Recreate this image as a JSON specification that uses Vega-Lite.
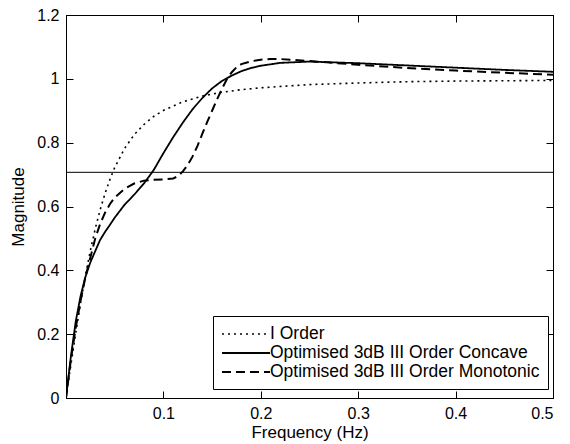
{
  "$schema": "https://vega.github.io/schema/vega-lite/v6.json",
  "width": 487,
  "height": 383,
  "autosize": {"type": "none"},
  "padding": {"left": 66, "top": 15, "right": 17, "bottom": 46},
  "background": "white",
  "datasets": {
    "curves": [
      {"f": 0, "m": 0, "s": "I Order"},
      {"f": 0.005, "m": 0.104, "s": "I Order"},
      {"f": 0.01, "m": 0.204, "s": "I Order"},
      {"f": 0.015, "m": 0.298, "s": "I Order"},
      {"f": 0.02, "m": 0.385, "s": "I Order"},
      {"f": 0.025, "m": 0.462, "s": "I Order"},
      {"f": 0.03, "m": 0.53, "s": "I Order"},
      {"f": 0.035, "m": 0.589, "s": "I Order"},
      {"f": 0.04, "m": 0.64, "s": "I Order"},
      {"f": 0.045, "m": 0.684, "s": "I Order"},
      {"f": 0.05, "m": 0.722, "s": "I Order"},
      {"f": 0.06, "m": 0.781, "s": "I Order"},
      {"f": 0.07, "m": 0.825, "s": "I Order"},
      {"f": 0.08, "m": 0.857, "s": "I Order"},
      {"f": 0.09, "m": 0.882, "s": "I Order"},
      {"f": 0.1, "m": 0.901, "s": "I Order"},
      {"f": 0.12, "m": 0.928, "s": "I Order"},
      {"f": 0.14, "m": 0.946, "s": "I Order"},
      {"f": 0.16, "m": 0.958, "s": "I Order"},
      {"f": 0.18, "m": 0.966, "s": "I Order"},
      {"f": 0.2, "m": 0.972, "s": "I Order"},
      {"f": 0.25, "m": 0.982, "s": "I Order"},
      {"f": 0.3, "m": 0.987, "s": "I Order"},
      {"f": 0.35, "m": 0.991, "s": "I Order"},
      {"f": 0.4, "m": 0.993, "s": "I Order"},
      {"f": 0.45, "m": 0.994, "s": "I Order"},
      {"f": 0.5, "m": 0.995, "s": "I Order"},
      {"f": 0, "m": 0, "s": "Optimised 3dB III Order Concave"},
      {"f": 0.005, "m": 0.13, "s": "Optimised 3dB III Order Concave"},
      {"f": 0.01, "m": 0.24, "s": "Optimised 3dB III Order Concave"},
      {"f": 0.015, "m": 0.32, "s": "Optimised 3dB III Order Concave"},
      {"f": 0.02, "m": 0.38, "s": "Optimised 3dB III Order Concave"},
      {"f": 0.025, "m": 0.425, "s": "Optimised 3dB III Order Concave"},
      {"f": 0.03, "m": 0.46, "s": "Optimised 3dB III Order Concave"},
      {"f": 0.035, "m": 0.495, "s": "Optimised 3dB III Order Concave"},
      {"f": 0.04, "m": 0.52, "s": "Optimised 3dB III Order Concave"},
      {"f": 0.045, "m": 0.542, "s": "Optimised 3dB III Order Concave"},
      {"f": 0.05, "m": 0.565, "s": "Optimised 3dB III Order Concave"},
      {"f": 0.06, "m": 0.605, "s": "Optimised 3dB III Order Concave"},
      {"f": 0.07, "m": 0.637, "s": "Optimised 3dB III Order Concave"},
      {"f": 0.08, "m": 0.672, "s": "Optimised 3dB III Order Concave"},
      {"f": 0.09, "m": 0.714, "s": "Optimised 3dB III Order Concave"},
      {"f": 0.1, "m": 0.767, "s": "Optimised 3dB III Order Concave"},
      {"f": 0.11, "m": 0.817, "s": "Optimised 3dB III Order Concave"},
      {"f": 0.12, "m": 0.863, "s": "Optimised 3dB III Order Concave"},
      {"f": 0.13, "m": 0.905, "s": "Optimised 3dB III Order Concave"},
      {"f": 0.14, "m": 0.94, "s": "Optimised 3dB III Order Concave"},
      {"f": 0.15, "m": 0.97, "s": "Optimised 3dB III Order Concave"},
      {"f": 0.16, "m": 0.993, "s": "Optimised 3dB III Order Concave"},
      {"f": 0.17, "m": 1.01, "s": "Optimised 3dB III Order Concave"},
      {"f": 0.18, "m": 1.024, "s": "Optimised 3dB III Order Concave"},
      {"f": 0.19, "m": 1.034, "s": "Optimised 3dB III Order Concave"},
      {"f": 0.2, "m": 1.041, "s": "Optimised 3dB III Order Concave"},
      {"f": 0.22, "m": 1.05, "s": "Optimised 3dB III Order Concave"},
      {"f": 0.25, "m": 1.054, "s": "Optimised 3dB III Order Concave"},
      {"f": 0.3, "m": 1.049, "s": "Optimised 3dB III Order Concave"},
      {"f": 0.35, "m": 1.042, "s": "Optimised 3dB III Order Concave"},
      {"f": 0.4, "m": 1.035, "s": "Optimised 3dB III Order Concave"},
      {"f": 0.45, "m": 1.028, "s": "Optimised 3dB III Order Concave"},
      {"f": 0.5, "m": 1.022, "s": "Optimised 3dB III Order Concave"},
      {"f": 0, "m": 0, "s": "Optimised 3dB III Order Monotonic"},
      {"f": 0.005, "m": 0.12, "s": "Optimised 3dB III Order Monotonic"},
      {"f": 0.01, "m": 0.22, "s": "Optimised 3dB III Order Monotonic"},
      {"f": 0.015, "m": 0.305, "s": "Optimised 3dB III Order Monotonic"},
      {"f": 0.02, "m": 0.38, "s": "Optimised 3dB III Order Monotonic"},
      {"f": 0.025, "m": 0.44, "s": "Optimised 3dB III Order Monotonic"},
      {"f": 0.03, "m": 0.5, "s": "Optimised 3dB III Order Monotonic"},
      {"f": 0.035, "m": 0.545, "s": "Optimised 3dB III Order Monotonic"},
      {"f": 0.04, "m": 0.58, "s": "Optimised 3dB III Order Monotonic"},
      {"f": 0.045, "m": 0.607, "s": "Optimised 3dB III Order Monotonic"},
      {"f": 0.05, "m": 0.628, "s": "Optimised 3dB III Order Monotonic"},
      {"f": 0.06, "m": 0.655, "s": "Optimised 3dB III Order Monotonic"},
      {"f": 0.07, "m": 0.672, "s": "Optimised 3dB III Order Monotonic"},
      {"f": 0.08, "m": 0.681, "s": "Optimised 3dB III Order Monotonic"},
      {"f": 0.09, "m": 0.684, "s": "Optimised 3dB III Order Monotonic"},
      {"f": 0.1, "m": 0.685, "s": "Optimised 3dB III Order Monotonic"},
      {"f": 0.11, "m": 0.688, "s": "Optimised 3dB III Order Monotonic"},
      {"f": 0.115, "m": 0.695, "s": "Optimised 3dB III Order Monotonic"},
      {"f": 0.12, "m": 0.71, "s": "Optimised 3dB III Order Monotonic"},
      {"f": 0.125, "m": 0.73, "s": "Optimised 3dB III Order Monotonic"},
      {"f": 0.13, "m": 0.757, "s": "Optimised 3dB III Order Monotonic"},
      {"f": 0.135, "m": 0.79, "s": "Optimised 3dB III Order Monotonic"},
      {"f": 0.14, "m": 0.828, "s": "Optimised 3dB III Order Monotonic"},
      {"f": 0.145, "m": 0.865, "s": "Optimised 3dB III Order Monotonic"},
      {"f": 0.15, "m": 0.9, "s": "Optimised 3dB III Order Monotonic"},
      {"f": 0.155, "m": 0.935, "s": "Optimised 3dB III Order Monotonic"},
      {"f": 0.16, "m": 0.968, "s": "Optimised 3dB III Order Monotonic"},
      {"f": 0.165, "m": 0.998, "s": "Optimised 3dB III Order Monotonic"},
      {"f": 0.17, "m": 1.02, "s": "Optimised 3dB III Order Monotonic"},
      {"f": 0.175, "m": 1.036, "s": "Optimised 3dB III Order Monotonic"},
      {"f": 0.18, "m": 1.046, "s": "Optimised 3dB III Order Monotonic"},
      {"f": 0.19, "m": 1.055, "s": "Optimised 3dB III Order Monotonic"},
      {"f": 0.2, "m": 1.06, "s": "Optimised 3dB III Order Monotonic"},
      {"f": 0.21, "m": 1.062, "s": "Optimised 3dB III Order Monotonic"},
      {"f": 0.22, "m": 1.062, "s": "Optimised 3dB III Order Monotonic"},
      {"f": 0.25, "m": 1.056, "s": "Optimised 3dB III Order Monotonic"},
      {"f": 0.3, "m": 1.044, "s": "Optimised 3dB III Order Monotonic"},
      {"f": 0.35, "m": 1.034, "s": "Optimised 3dB III Order Monotonic"},
      {"f": 0.4, "m": 1.026, "s": "Optimised 3dB III Order Monotonic"},
      {"f": 0.45, "m": 1.019, "s": "Optimised 3dB III Order Monotonic"},
      {"f": 0.5, "m": 1.013, "s": "Optimised 3dB III Order Monotonic"}
    ],
    "ref": [{"level": 0.7071}]
  },
  "layer": [
    {
      "data": {"name": "curves"},
      "mark": {"type": "line", "color": "black", "clip": true},
      "encoding": {
        "x": {
          "field": "f", "type": "quantitative",
          "scale": {"domain": [0, 0.5], "nice": false, "zero": false},
          "axis": {"orient": "bottom", "values": [0.1, 0.2, 0.3, 0.4, 0.5], "title": "Frequency (Hz)", "format": "~g", "titlePadding": 3}
        },
        "y": {
          "field": "m", "type": "quantitative",
          "scale": {"domain": [0, 1.2], "nice": false},
          "axis": {"orient": "left", "values": [0, 0.2, 0.4, 0.6, 0.8, 1, 1.2], "title": "Magnitude", "format": "~g", "titlePadding": 9}
        },
        "strokeDash": {
          "field": "s", "type": "nominal",
          "scale": {
            "domain": ["I Order", "Optimised 3dB III Order Concave", "Optimised 3dB III Order Monotonic"],
            "range": [[2, 4], [1, 0], [9, 5]]
          },
          "legend": {"title": null}
        },
        "strokeWidth": {
          "field": "s", "type": "nominal",
          "scale": {
            "domain": ["I Order", "Optimised 3dB III Order Concave", "Optimised 3dB III Order Monotonic"],
            "range": [1.6, 2, 2]
          },
          "legend": {"title": null}
        }
      }
    },
    {
      "data": {"name": "ref"},
      "mark": {"type": "rule", "color": "black", "strokeWidth": 1},
      "encoding": {
        "y": {"field": "level", "type": "quantitative", "axis": null}
      }
    },
    {
      "data": {"name": "curves"},
      "mark": {"type": "line", "opacity": 0},
      "encoding": {
        "x": {
          "field": "f", "type": "quantitative",
          "axis": {"orient": "top", "values": [0.1, 0.2, 0.3, 0.4, 0.5], "labels": false, "title": null}
        },
        "y": {
          "field": "m", "type": "quantitative",
          "axis": {"orient": "right", "values": [0, 0.2, 0.4, 0.6, 0.8, 1, 1.2], "labels": false, "title": null}
        },
        "detail": {"field": "s"}
      }
    }
  ],
  "resolve": {"axis": {"x": "independent", "y": "independent"}},
  "config": {
    "view": {"stroke": "black", "strokeWidth": 1},
    "axis": {
      "grid": false,
      "domainColor": "black",
      "tickColor": "black",
      "tickSize": -7,
      "labelPadding": 14,
      "labelFont": "Liberation Sans",
      "labelFontSize": 16,
      "labelColor": "black",
      "titleFont": "Liberation Sans",
      "titleFontSize": 17,
      "titleFontWeight": "normal",
      "titleColor": "black"
    },
    "legend": {
      "orient": "none",
      "legendX": 147,
      "legendY": 301,
      "strokeColor": "black",
      "fillColor": "white",
      "padding": 8,
      "symbolType": "M-2.67,0H2.67",
      "symbolSize": 324,
      "symbolOffset": 15,
      "symbolStrokeColor": "black",
      "labelFont": "Liberation Sans",
      "labelFontSize": 17.5,
      "labelColor": "black",
      "labelLimit": 0,
      "labelOffset": 14,
      "rowPadding": 0,
      "cornerRadius": 0
    }
  }
}
